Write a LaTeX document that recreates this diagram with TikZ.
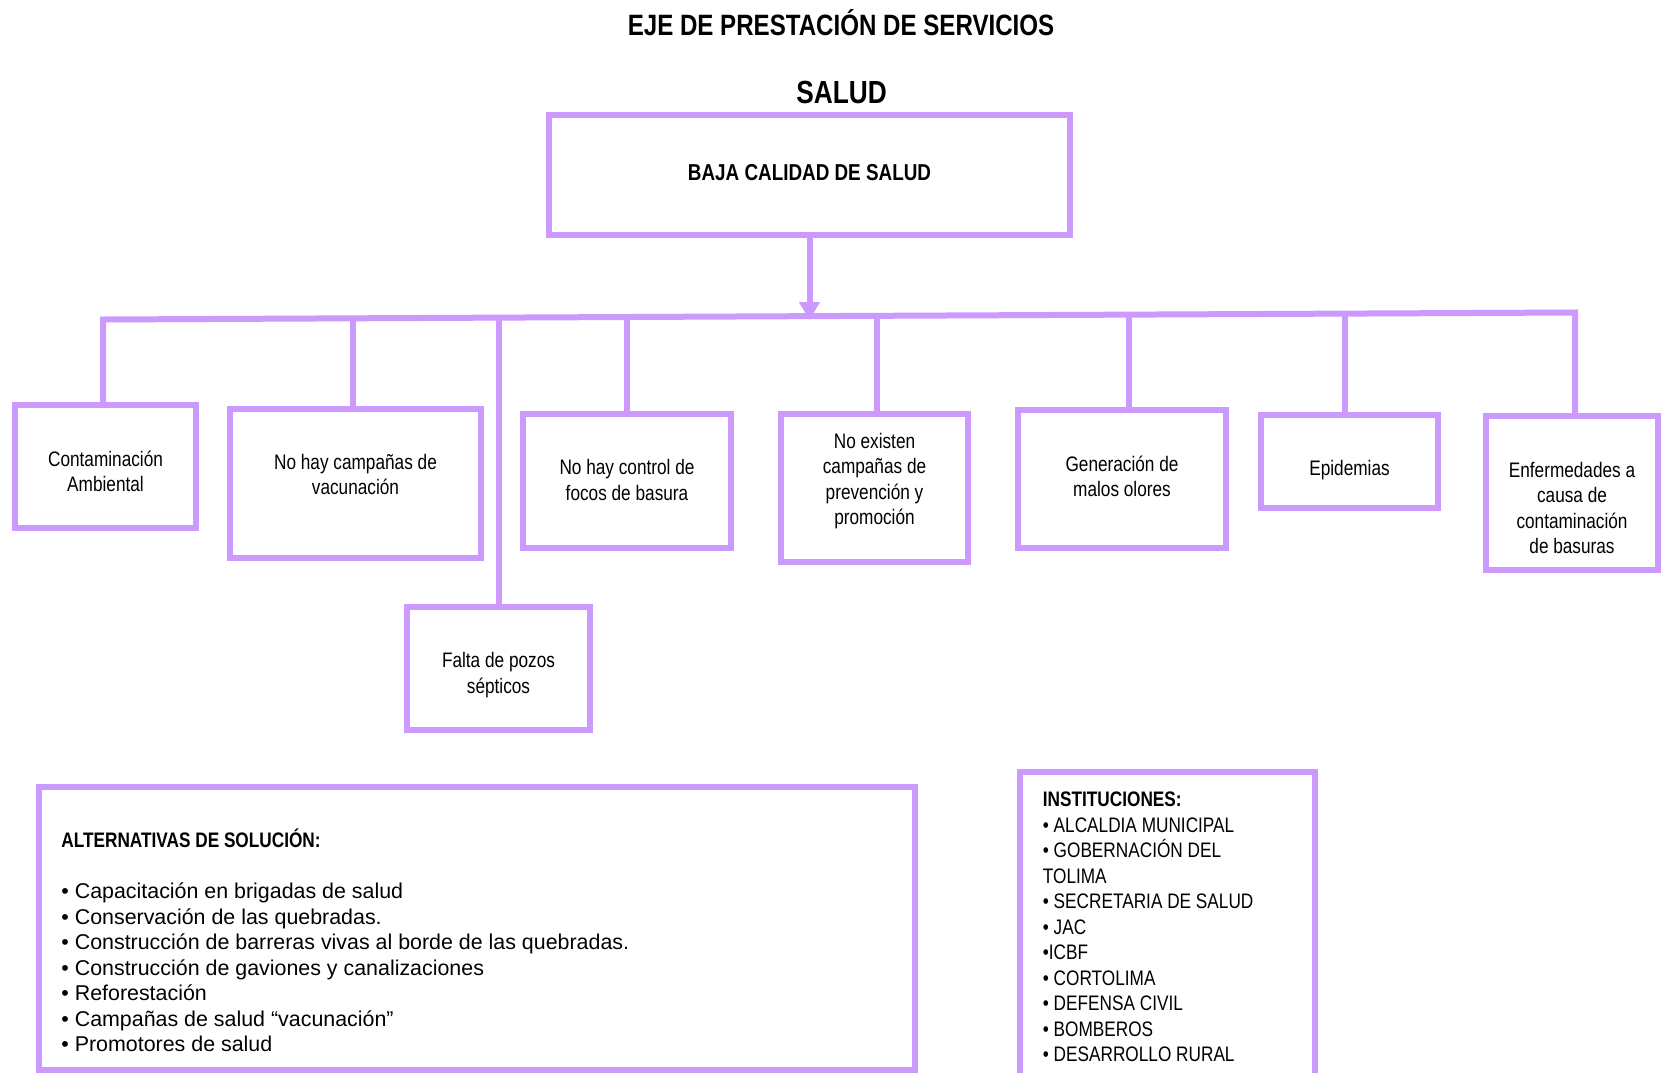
\documentclass[tikz,border=0pt]{standalone}
\usepackage{fontspec}
\setmainfont{Liberation Sans}[FakeStretch=0.82]
\newfontfamily\widefont{Liberation Sans}
\usetikzlibrary{arrows.meta}
\definecolor{lila}{RGB}{204,153,255}
\tikzset{
  caja/.style={draw=lila, line width=3pt, inner sep=0pt},
  texto/.style={align=center, inner sep=0pt, font=\fontsize{10.5}{12.6}\selectfont},
  linea/.style={draw=lila, line width=3pt},
}
\begin{document}
\begin{tikzpicture}[x=0.5pt,y=-0.5pt]
    \useasboundingbox (0,0) rectangle (1663,1072);

    \node[font=\bfseries\fontsize{14.7}{17}\selectfont] (titulo) at (841,23) {EJE DE PRESTACIÓN DE SERVICIOS};
    \node[font=\bfseries\fontsize{16}{19}\selectfont] (salud) at (841.5,92.5) {SALUD};

    \node[caja, minimum width=260.5pt, minimum height=60pt] (baja) at (809.5,175) {};
    \node[texto, font=\bfseries\fontsize{11.5}{14}\selectfont] (baja-t) at (809.5,173) {BAJA CALIDAD DE SALUD};

    %causas
    \node[caja, minimum width=90.5pt, minimum height=61.5pt] (cont) at (105.5,466.5) {};
    \node[caja, minimum width=125.5pt, minimum height=74.5pt] (vac) at (355.5,483.5) {};
    \node[caja, minimum width=91.5pt, minimum height=61.5pt] (pozos) at (498.5,668.5) {};
    \node[caja, minimum width=104pt, minimum height=67pt] (focos) at (627,481) {};
    \node[caja, minimum width=93.5pt, minimum height=74pt] (prev) at (874.5,488) {};
    \node[caja, minimum width=104pt, minimum height=69pt] (olores) at (1122,479) {};
    \node[caja, minimum width=88.5pt, minimum height=46.5pt] (epid) at (1349.5,461.5) {};
    \node[caja, minimum width=86pt, minimum height=77pt] (enf) at (1572,493) {};

    \node[texto] (cont-t) at (105.5,471) {Contaminación\\Ambiental};
    \node[texto] (vac-t) at (355.5,474.5) {No hay campañas de\\vacunación};
    \node[texto] (pozos-t) at (498.5,675) {Falta de pozos\\sépticos};
    \node[texto] (focos-t) at (627,480) {No hay control de\\focos de basura};
    \node[texto] (prev-t) at (874.5,481) {No existen\\campañas de\\prevención y\\promoción};
    \node[texto] (olores-t) at (1122,476) {Generación de\\malos olores};
    \node[texto] (epid-t) at (1349.5,470) {Epidemias};
    \node[texto] (enf-t) at (1572,508) {Enfermedades a\\causa de\\contaminación\\de basuras};

    %linea horizontal
    \coordinate (J1) at (103,319.5);
    \coordinate (J2) at (353,318.3);
    \coordinate (J3) at (499,317.6);
    \coordinate (J4) at (627,317);
    \coordinate (J5) at (810.5,320);
    \coordinate (J6) at (877,315.8);
    \coordinate (J7) at (1129,314.6);
    \coordinate (J8) at (1345,313.6);
    \coordinate (J9) at (1575,312.5);

    \draw[linea] (J1 |- cont.north) -- (J1) -- (J9) -- (J9 |- enf.north);
    \draw[linea] (J2) -- (J2 |- vac.north);
    \draw[linea] (J3) -- (J3 |- pozos.north);
    \draw[linea] (J4) -- (J4 |- focos.north);
    \draw[linea] (J6) -- (J6 |- prev.north);
    \draw[linea] (J7) -- (J7 |- olores.north);
    \draw[linea] (J8) -- (J8 |- epid.north);
    \draw[linea, -{Triangle[width=10pt,length=9pt]}] (baja.south) -- (baja.south |- J5);

    %cuadros de abajo
    \node[caja, minimum width=438pt, minimum height=141.5pt] (alt) at (477,928.5) {};
    \node[caja, minimum width=147.5pt, minimum height=159.25pt] (inst) at (1167,930.75) {};

    \node[anchor=north west, align=left, inner sep=0pt, font=\widefont\fontsize{10.7}{12.75}\selectfont] (solucion) at (61,828.5)
        {{\normalfont\bfseries\fontsize{10.5}{12.75}\selectfont ALTERNATIVAS DE SOLUCIÓN:}\\[12.75pt]
         • Capacitación en brigadas de salud\\
         • Conservación de las quebradas.\\
         • Construcción de barreras vivas al borde de las quebradas.\\
         • Construcción de gaviones y canalizaciones\\
         • Reforestación\\
         • Campañas de salud “vacunación”\\
         • Promotores de salud};

    \node[anchor=north west, align=left, inner sep=0pt, font=\fontsize{10.5}{12.75}\selectfont] (lista) at (1042.5,791.5)
        {\textbf{INSTITUCIONES:}\\
         • ALCALDIA MUNICIPAL\\
         • GOBERNACIÓN DEL\\
         TOLIMA\\
         • SECRETARIA DE SALUD\\
         • JAC\\
         •ICBF\\
         • CORTOLIMA\\
         • DEFENSA CIVIL\\
         • BOMBEROS\\
         • DESARROLLO RURAL};

\end{tikzpicture}
\end{document}
